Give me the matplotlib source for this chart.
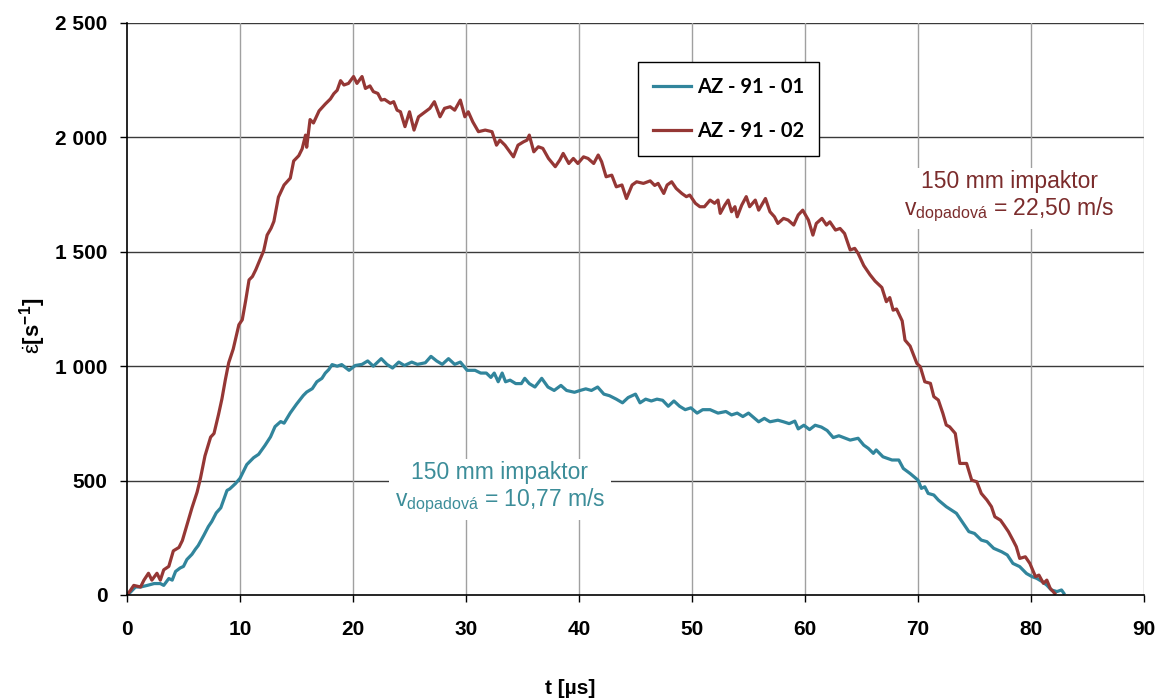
import matplotlib
matplotlib.use("Agg")
import matplotlib.pyplot as plt
from matplotlib.ticker import FuncFormatter

plt.rcParams['font.family'] = ['Liberation Sans', 'DejaVu Sans']
plt.rcParams['mathtext.fontset'] = 'custom'
plt.rcParams['mathtext.rm'] = 'Liberation Sans'
plt.rcParams['mathtext.it'] = 'Liberation Sans'
plt.rcParams['mathtext.bf'] = 'Liberation Sans:bold'

# ---------------- data ----------------
series_labels = ["AZ - 91 - 01", "AZ - 91 - 02"]

t_01 = [0.0, 0.3, 0.75, 1.2, 1.8, 2.4, 2.95, 3.25, 3.7, 4.0, 4.3, 4.7, 5.0, 5.3, 5.75,
        6.05, 6.3, 6.8, 7.2, 7.5, 7.9, 8.3, 8.85, 9.1, 9.6, 10.0, 10.6, 11.2, 11.65,
        12.2, 12.7, 13.1, 13.6, 13.9, 14.45, 15.0, 15.6, 15.9, 16.4, 16.8, 17.25,
        17.55, 17.85, 18.15, 18.6, 19.0, 19.65, 20.2, 20.8, 21.3, 21.8, 22.5, 23.0,
        23.5, 24.05, 24.55, 25.2, 25.7, 26.4, 26.9, 27.4, 27.9, 28.45, 29.0, 29.5,
        29.8, 30.1, 30.8, 31.3, 31.8, 32.2, 32.5, 32.85, 33.2, 33.5, 33.9, 34.4,
        34.9, 35.2, 35.6, 36.1, 36.7, 37.25, 37.8, 38.4, 38.9, 39.6, 40.1, 40.6,
        41.1, 41.65, 42.2, 42.7, 43.3, 43.85, 44.35, 45.0, 45.4, 45.9, 46.4, 46.9,
        47.4, 47.9, 48.4, 48.9, 49.4, 49.9, 50.45, 50.95, 51.6, 52.3, 53.0, 53.5,
        54.0, 54.5, 55.0, 55.9, 56.4, 56.9, 57.6, 58.1, 58.6, 59.1, 59.4, 59.9,
        60.4, 60.9, 61.45, 61.96, 62.5, 63.0, 64.0, 64.7, 65.2, 65.6, 66.05, 66.3,
        66.9, 67.7, 68.3, 68.7, 69.3, 70.0, 70.3, 70.6, 70.9, 71.4, 71.8, 72.5,
        73.4, 74.0, 74.5, 75.0, 75.6, 76.1, 76.7, 77.4, 77.9, 78.4, 79.0, 79.6,
        80.1, 80.5, 81.0, 81.4, 81.8, 82.3, 82.7, 82.9]
v_01 = [0, 12, 35, 35, 42, 50, 50, 42, 72, 65, 103, 118, 125, 155, 178,
        200, 216, 261, 299, 321, 359, 381, 457, 464, 487, 510, 570, 600, 615,
        653, 691, 736, 758, 751, 796, 834, 872, 887, 902, 932, 947,
        970, 985, 1007, 1000, 1007, 982, 1003, 1008, 1023, 1000, 1033, 1008,
        992, 1018, 1003, 1018, 1008, 1015, 1043, 1023, 1008, 1033, 1008, 1018,
        1000, 982, 982, 970, 970, 951, 970, 932, 970, 932, 939, 924,
        924, 947, 924, 909, 947, 909, 894, 916, 894, 886, 894, 901,
        894, 909, 878, 871, 856, 840, 863, 878, 840, 856, 848, 856,
        851, 825, 848, 825, 810, 818, 795, 810, 810, 795, 802, 787,
        795, 780, 795, 757, 772, 757, 764, 757, 749, 760, 726, 742,
        723, 742, 734, 719, 688, 696, 677, 685, 655, 641, 619, 634,
        604, 590, 590, 553, 531, 502, 466, 473, 444, 437, 415, 386,
        357, 313, 277, 269, 240, 233, 204, 189, 175, 138, 124, 94,
        80, 73, 58, 43, 22, 15, 22, 8]

t_02 = [0.0, 0.3, 0.6, 1.2, 1.5, 1.9, 2.2, 2.65, 2.95, 3.25, 3.7, 4.1, 4.6, 4.9, 5.3,
        5.75, 6.2, 6.5, 6.9, 7.4, 7.7, 8.1, 8.4, 8.7, 9.0, 9.4, 9.9, 10.2, 10.5,
        10.8, 11.1, 11.4, 11.65, 12.1, 12.4, 12.75, 13.0, 13.4, 13.9, 14.45, 14.75,
        15.2, 15.5, 15.8, 15.9, 16.2, 16.5, 17.0, 17.55, 18.0, 18.3, 18.6, 18.9,
        19.2, 19.6, 20.05, 20.35, 20.8, 21.1, 21.5, 21.8, 22.2, 22.5, 22.8, 23.3,
        23.6, 23.9, 24.2, 24.6, 25.0, 25.4, 25.8, 26.2, 26.8, 27.2, 27.7, 28.1,
        28.6, 29.0, 29.5, 29.9, 30.2, 30.6, 31.1, 31.7, 32.3, 32.7, 33.0, 33.45,
        34.2, 34.6, 35.1, 35.4, 35.6, 36.0, 36.4, 36.8, 37.3, 37.9, 38.3, 38.6,
        39.1, 39.5, 39.9, 40.4, 40.8, 41.3, 41.7, 42.0, 42.4, 42.9, 43.3, 43.8,
        44.2, 44.7, 45.1, 45.7, 46.3, 46.7, 47.0, 47.5, 47.8, 48.2, 48.6, 49.1,
        49.5, 49.8, 50.3, 50.7, 51.1, 51.6, 52.0, 52.3, 52.5, 52.9, 53.2, 53.5,
        53.8, 54.0, 54.4, 54.8, 55.1, 55.6, 55.9, 56.5, 56.9, 57.3, 57.6, 58.1,
        58.5, 59.0, 59.4, 59.8, 60.3, 60.7, 61.0, 61.5, 61.9, 62.2, 62.7, 63.1,
        63.5, 64.0, 64.4, 64.7, 65.2, 65.75, 66.2, 66.8, 67.2, 67.5, 67.8, 68.1,
        68.6, 68.85, 69.3, 69.9, 70.2, 70.6, 71.1, 71.4, 71.8, 72.2, 72.5, 72.8,
        73.3, 73.7, 74.3, 74.75, 75.2, 75.6, 76.1, 76.5, 76.8, 77.3, 77.6, 78.0,
        78.4, 78.7, 79.0, 79.5, 79.9, 80.4, 80.7, 81.1, 81.4, 81.7, 82.1]
v_02 = [0, 20, 42, 35, 65, 95, 65, 95, 65, 110, 125, 193, 208, 238, 306,
        381, 449, 510, 608, 690, 706, 789, 857, 940, 1015, 1075, 1181, 1203, 1286,
        1377, 1392, 1422, 1452, 1505, 1573, 1603, 1633, 1739, 1792, 1822, 1897,
        1920, 1950, 2010, 1957, 2078, 2063, 2116, 2146, 2168, 2191, 2206, 2248,
        2229, 2236, 2266, 2236, 2266, 2214, 2225, 2200, 2192, 2163, 2166, 2149,
        2156, 2119, 2112, 2047, 2112, 2032, 2090, 2105, 2127, 2156, 2090, 2127,
        2134, 2119, 2163, 2090, 2112, 2068, 2025, 2032, 2025, 1966, 1988, 1966,
        1915, 1966, 1981, 1988, 2010, 1937, 1959, 1952, 1908, 1872, 1901, 1930,
        1886, 1908, 1886, 1915, 1908, 1886, 1923, 1894, 1828, 1835, 1784, 1792,
        1733, 1792, 1806, 1799, 1810, 1790, 1799, 1755, 1792, 1806, 1777, 1755,
        1741, 1748, 1712, 1697, 1697, 1726, 1712, 1726, 1668, 1704, 1726, 1675,
        1697, 1653, 1704, 1741, 1697, 1726, 1682, 1733, 1675, 1653, 1624, 1646,
        1639, 1617, 1661, 1682, 1639, 1573, 1624, 1646, 1617, 1631, 1595, 1602,
        1580, 1508, 1515, 1493, 1440, 1400, 1372, 1344, 1282, 1300, 1245, 1250,
        1198, 1114, 1088, 1012, 998, 932, 925, 867, 852, 794, 743, 735,
        706, 575, 575, 502, 495, 444, 415, 386, 342, 327, 306, 277,
        240, 211, 160, 167, 138, 80, 87, 51, 65, 29, 7]

x_ticks = [0, 10, 20, 30, 40, 50, 60, 70, 80, 90]
y_ticks = [0, 500, 1000, 1500, 2000, 2500]

# ---------------- figure ----------------
fig = plt.figure(figsize=(11.6, 7.0), dpi=100)
ax = fig.add_axes([127/1160, 1-595/700, (1144-127)/1160, (595-23)/700])

c_blue = '#31859C'
c_red = '#953735'

ax.plot(t_01, v_01, color=c_blue, lw=2.3, label=series_labels[0], zorder=3)
ax.plot(t_02, v_02, color=c_red, lw=2.3, label=series_labels[1], zorder=3)

ax.set_xlim(0, 90)
ax.set_ylim(0, 2500)
ax.set_xticks(x_ticks)
ax.set_yticks(y_ticks)
ax.yaxis.set_major_formatter(FuncFormatter(lambda v, p: f"{int(v):,}".replace(",", " ")))

# gridlines
for yv in y_ticks[1:]:
    ax.axhline(yv, color='#3a3a3a', lw=1.0, zorder=1)
for xv in x_ticks[1:]:
    ax.axvline(xv, color='#a0a0a0', lw=1.0, zorder=1)

for s in ['top', 'right']:
    ax.spines[s].set_visible(False)
for s in ['left', 'bottom']:
    ax.spines[s].set_color('black')
    ax.spines[s].set_linewidth(1.2)
    ax.spines[s].set_zorder(4)

ax.tick_params(axis='both', direction='out', length=5, width=1, color='black')
ax.tick_params(axis='x', pad=13)
ax.tick_params(axis='y', pad=9)
for lab in ax.get_xticklabels() + ax.get_yticklabels():
    lab.set_fontsize(15)
    lab.set_fontweight('bold')

# axis labels
ax.set_ylabel(r'$\dot{\varepsilon}$[s$^{\mathregular{-1}}$]', fontsize=16, fontweight='bold')
ax.yaxis.set_label_coords(-0.078, 0.47)
fig.text(570/1160, 1-688/700, 't [µs]', fontsize=15, fontweight='bold', ha='center', va='center')

# legend
leg = ax.legend(loc='upper left', bbox_to_anchor=(0.502, 0.932), borderaxespad=0,
                frameon=True, fancybox=False, edgecolor='black', framealpha=1,
                prop={'family': 'Lato', 'weight': 'bold', 'size': 14.5},
                handlelength=1.9, handletextpad=0.3, labelspacing=1.2,
                borderpad=0.75)
leg.get_frame().set_linewidth(1.0)
leg.set_zorder(5)

# annotations
ax.text(78.1, 1740,
        '150 mm impaktor\nv$_{\\mathregular{dopadová}}$ = 22,50 m/s',
        color='#7B2C2C', fontsize=16.5, ha='center', va='center', multialignment='center',
        linespacing=1.1, zorder=5,
        bbox=dict(boxstyle='square,pad=0.25', facecolor='white', edgecolor='none'))
ax.text(33.0, 468,
        '150 mm impaktor\nv$_{\\mathregular{dopadová}}$ = 10,77 m/s',
        color='#3C8D99', fontsize=16.5, ha='center', va='center', multialignment='center',
        linespacing=1.1, zorder=5,
        bbox=dict(boxstyle='square,pad=0.25', facecolor='white', edgecolor='none'))

fig.savefig('out.png', dpi=100)
